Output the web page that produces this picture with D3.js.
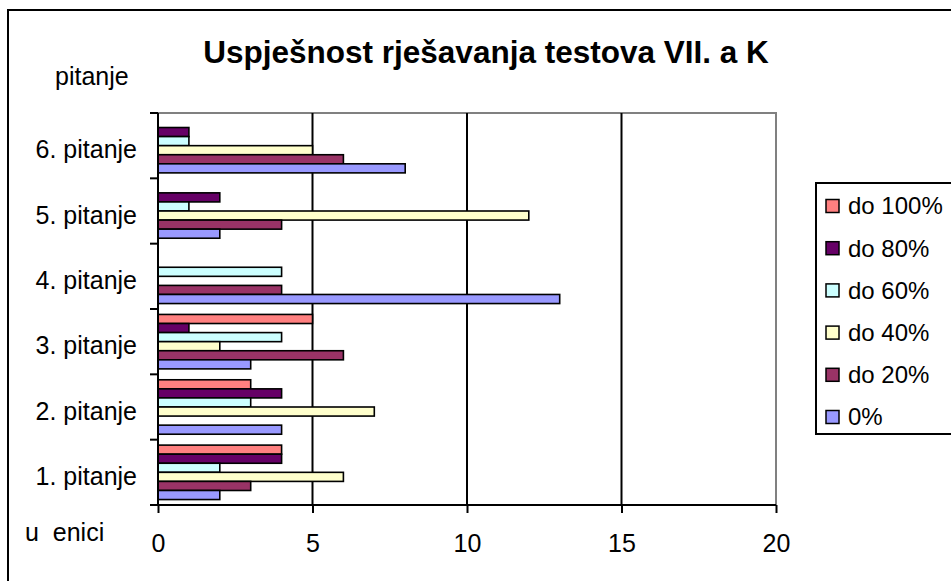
<!DOCTYPE html>
<html>
<head>
<meta charset="utf-8">
<script src="https://cdn.jsdelivr.net/npm/d3@7"></script>
<style>
  body { margin: 0; background: #fff; }
  text { font-family: Arial, "Liberation Sans", sans-serif; fill: #000; }
</style>
</head>
<body>
<div id="chart"></div>
<script>
// categories (bottom to top) and series (top to bottom inside a group)
const questions = ["1. pitanje", "2. pitanje", "3. pitanje", "4. pitanje", "5. pitanje", "6. pitanje"];
const series = ["do 100%", "do 80%", "do 60%", "do 40%", "do 20%", "0%"];
const colors = ["#FF8080", "#660066", "#CCFFFF", "#FFFFCC", "#993366", "#9999FF"];

// values per series, one per question (1..6)
const do100 = [4, 3, 5, 0, 0, 0];
const do80 = [4, 4, 1, 0, 2, 1];
const do60 = [2, 3, 4, 4, 1, 1];
const do40 = [6, 7, 2, 0, 12, 5];
const do20 = [3, 0, 6, 4, 4, 6];
const zero = [2, 4, 3, 13, 2, 8];
const values = [do100, do80, do60, do40, do20, zero];

const xTicks = [0, 5, 10, 15, 20];

const width = 951, height = 581;
const plot = { left: 158, right: 776, top: 113, bottom: 505 };

const svg = d3.select("#chart").append("svg")
  .attr("width", width)
  .attr("height", height);

// outer chart border (runs off the right and bottom edge)
svg.append("path")
  .attr("d", "M8," + (height + 10) + "V10H" + (width + 10))
  .attr("fill", "none")
  .attr("stroke", "#000")
  .attr("stroke-width", 2);

// scales
const x = d3.scaleLinear().domain([0, 20]).range([plot.left, plot.right]);
const y0 = d3.scaleBand().domain(questions.slice().reverse()).range([plot.top, plot.bottom]);
const y1 = d3.scaleBand().domain(series).range([0, y0.bandwidth()]).paddingOuter(0.6);

// plot area frame (grey top and right)
svg.append("path")
  .attr("d", "M" + plot.left + "," + plot.top + "H" + plot.right + "V" + plot.bottom)
  .attr("fill", "none")
  .attr("stroke", "#808080")
  .attr("stroke-width", 2);

// vertical gridlines
svg.selectAll(".grid")
  .data(xTicks.filter(d => d > 0 && d < 20))
  .enter().append("line")
  .attr("class", "grid")
  .attr("x1", d => x(d)).attr("x2", d => x(d))
  .attr("y1", plot.top).attr("y2", plot.bottom)
  .attr("stroke", "#000")
  .attr("stroke-width", 2);

// bars
const groups = svg.selectAll(".grp")
  .data(questions)
  .enter().append("g")
  .attr("class", "grp")
  .attr("transform", d => "translate(0," + y0(d) + ")");

groups.selectAll("rect")
  .data((q, qi) => series.map((s, si) => ({ s: s, si: si, v: values[si][qi] })).filter(d => d.v > 0))
  .enter().append("rect")
  .attr("x", x(0))
  .attr("y", d => y1(d.s))
  .attr("width", d => x(d.v) - x(0))
  .attr("height", y1.bandwidth())
  .attr("fill", d => colors[d.si])
  .attr("stroke", "#000")
  .attr("stroke-width", 1.6);

// x axis
const xAxis = svg.append("g")
  .attr("transform", "translate(0," + plot.bottom + ")")
  .call(d3.axisBottom(x).tickValues(xTicks).tickSize(8).tickSizeOuter(0).tickPadding(28));
xAxis.select(".domain").attr("stroke-width", 2).attr("d", "M150,0H" + plot.right);
xAxis.selectAll(".tick line").attr("stroke-width", 2);
xAxis.selectAll(".tick text")
  .style("font-size", "25px")
  .attr("dy", null)
  .attr("y", 47);

// y axis
const yAxis = svg.append("g")
  .attr("transform", "translate(" + plot.left + ",0)")
  .call(d3.axisLeft(y0).tickSize(0).tickPadding(21));
yAxis.select(".domain").attr("stroke-width", 2).attr("d", "M0," + plot.top + "V" + plot.bottom);
yAxis.selectAll(".tick text")
  .style("font-size", "25px")
  .attr("dy", "0.35em")
  .attr("y", 4);

// category separators
svg.selectAll(".ytick")
  .data(d3.range(questions.length + 1))
  .enter().append("line")
  .attr("class", "ytick")
  .attr("x1", 150).attr("x2", plot.left)
  .attr("y1", i => plot.top + i * y0.step())
  .attr("y2", i => plot.top + i * y0.step())
  .attr("stroke", "#000")
  .attr("stroke-width", 2);

// title and axis titles
svg.append("text")
  .attr("x", 486).attr("y", 63)
  .attr("text-anchor", "middle")
  .style("font-size", "31.5px")
  .style("font-weight", "bold")
  .text("Uspješnost rješavanja testova VII. a K");

svg.append("text")
  .attr("x", 55).attr("y", 85)
  .style("font-size", "25px")
  .text("pitanje");

svg.append("text")
  .attr("x", 25).attr("y", 541)
  .style("font-size", "25px")
  .text("u\u00a0\u00a0enici");

// legend
svg.append("rect")
  .attr("x", 816).attr("y", 183)
  .attr("width", 200).attr("height", 251)
  .attr("fill", "#fff")
  .attr("stroke", "#000")
  .attr("stroke-width", 2);

const legend = svg.selectAll(".leg")
  .data(series)
  .enter().append("g")
  .attr("class", "leg")
  .attr("transform", (d, i) => "translate(826," + (206 + i * 42.2) + ")");

legend.append("rect")
  .attr("x", 0).attr("y", -6.5)
  .attr("width", 13).attr("height", 13)
  .attr("fill", (d, i) => colors[i])
  .attr("stroke", "#000")
  .attr("stroke-width", 1.5);

legend.append("text")
  .attr("x", 22).attr("dy", "0.35em")
  .style("font-size", "24px")
  .text(d => d);
</script>
</body>
</html>
